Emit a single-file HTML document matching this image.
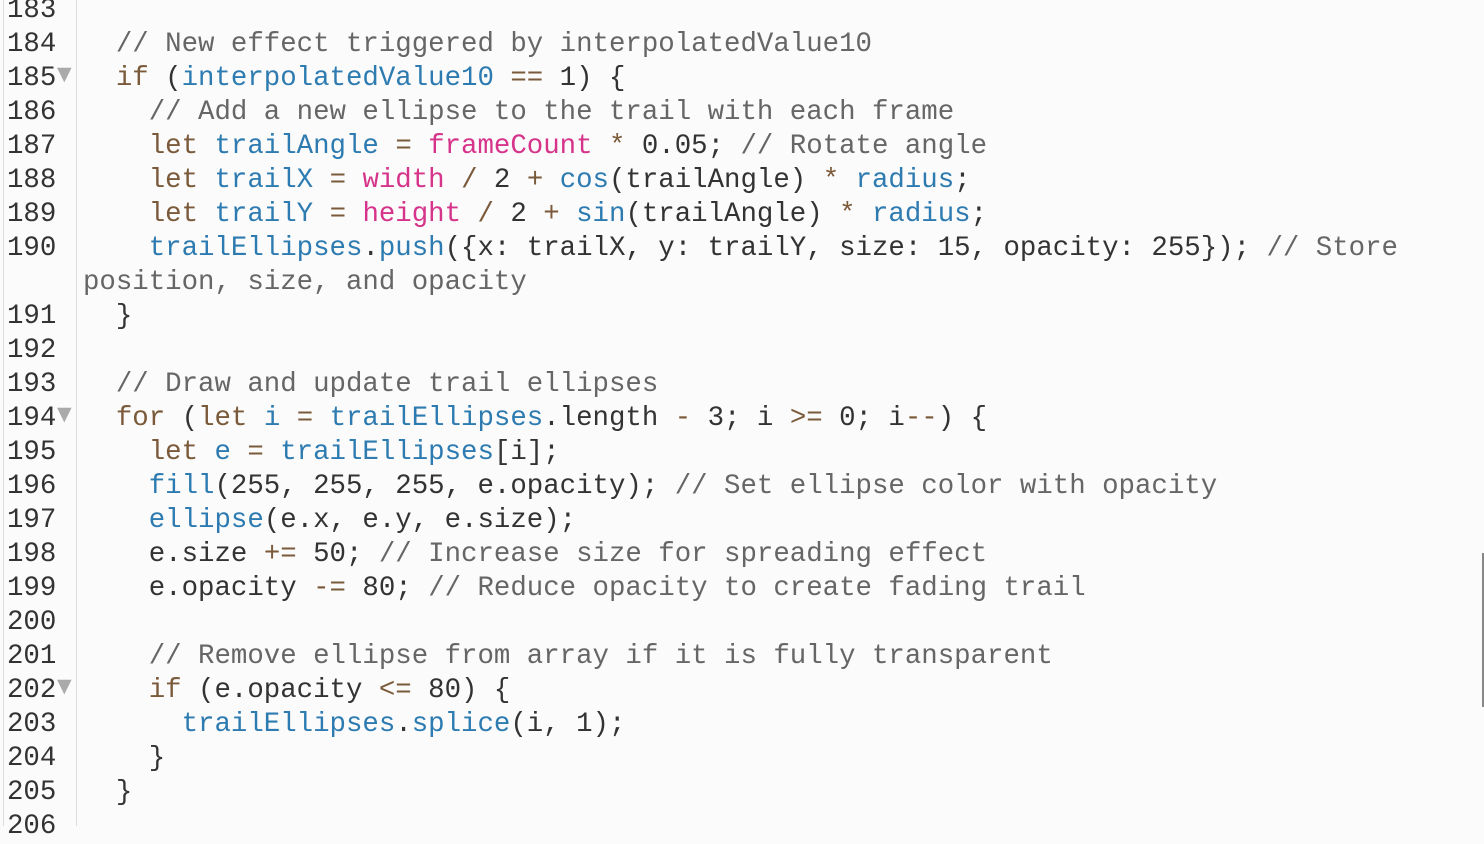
<!DOCTYPE html>
<html><head><meta charset="utf-8"><style>
html,body{margin:0;padding:0;width:1484px;height:826px;overflow:hidden;background:#fbfbfb;}
.g{position:absolute;left:3px;top:0;width:72px;height:826px;border-left:1px solid #ddd;border-right:1px solid #ddd;background:#fbfbfb}
.w{position:absolute;left:0;top:2px;width:1484px;height:826px}
.n,.l{position:absolute;font-family:"Liberation Mono",monospace;font-size:27.4px;line-height:34px;height:34px;white-space:pre;color:#333}
.n{left:7px}
.l{left:83px}
.f{position:absolute;left:57px;font-family:"DejaVu Sans",sans-serif;font-size:19px;color:#aaa}
.c{color:#666}.k{color:#7a5a3a}.b{color:#2d7bb0}.m{color:#d6338a}
.sb{position:absolute;left:1482px;top:553px;width:2px;height:154px;background:#888}
</style></head><body>
<div class="g"></div>
<div class="w">
<div class="n" style="top:-8px">183</div>
<div class="n" style="top:26px">184</div>
<div class="n" style="top:60px">185</div>
<div class="n" style="top:94px">186</div>
<div class="n" style="top:128px">187</div>
<div class="n" style="top:162px">188</div>
<div class="n" style="top:196px">189</div>
<div class="n" style="top:230px">190</div>
<div class="n" style="top:298px">191</div>
<div class="n" style="top:332px">192</div>
<div class="n" style="top:366px">193</div>
<div class="n" style="top:400px">194</div>
<div class="n" style="top:434px">195</div>
<div class="n" style="top:468px">196</div>
<div class="n" style="top:502px">197</div>
<div class="n" style="top:536px">198</div>
<div class="n" style="top:570px">199</div>
<div class="n" style="top:604px">200</div>
<div class="n" style="top:638px">201</div>
<div class="n" style="top:672px">202</div>
<div class="n" style="top:706px">203</div>
<div class="n" style="top:740px">204</div>
<div class="n" style="top:774px">205</div>
<div class="n" style="top:808px">206</div>
<div class="f" style="top:61px">▼</div>
<div class="f" style="top:401px">▼</div>
<div class="f" style="top:673px">▼</div>

<div class="l" style="top:26px">  <span class="c">// New effect triggered by interpolatedValue10</span></div>
<div class="l" style="top:60px">  <span class="k">if</span> (<span class="b">interpolatedValue10</span> <span class="k">==</span> 1) {</div>
<div class="l" style="top:94px">    <span class="c">// Add a new ellipse to the trail with each frame</span></div>
<div class="l" style="top:128px">    <span class="k">let</span> <span class="b">trailAngle</span> <span class="k">=</span> <span class="m">frameCount</span> <span class="k">*</span> 0.05; <span class="c">// Rotate angle</span></div>
<div class="l" style="top:162px">    <span class="k">let</span> <span class="b">trailX</span> <span class="k">=</span> <span class="m">width</span> <span class="k">/</span> 2 <span class="k">+</span> <span class="b">cos</span>(trailAngle) <span class="k">*</span> <span class="b">radius</span>;</div>
<div class="l" style="top:196px">    <span class="k">let</span> <span class="b">trailY</span> <span class="k">=</span> <span class="m">height</span> <span class="k">/</span> 2 <span class="k">+</span> <span class="b">sin</span>(trailAngle) <span class="k">*</span> <span class="b">radius</span>;</div>
<div class="l" style="top:230px">    <span class="b">trailEllipses</span>.<span class="b">push</span>({x: trailX, y: trailY, size: 15, opacity: 255}); <span class="c">// Store</span></div>
<div class="l" style="top:264px"><span class="c">position, size, and opacity</span></div>
<div class="l" style="top:298px">  }</div>
<div class="l" style="top:366px">  <span class="c">// Draw and update trail ellipses</span></div>
<div class="l" style="top:400px">  <span class="k">for</span> (<span class="k">let</span> <span class="b">i</span> <span class="k">=</span> <span class="b">trailEllipses</span>.length <span class="k">-</span> 3; i <span class="k">&gt;=</span> 0; i<span class="k">--</span>) {</div>
<div class="l" style="top:434px">    <span class="k">let</span> <span class="b">e</span> <span class="k">=</span> <span class="b">trailEllipses</span>[i];</div>
<div class="l" style="top:468px">    <span class="b">fill</span>(255, 255, 255, e.opacity); <span class="c">// Set ellipse color with opacity</span></div>
<div class="l" style="top:502px">    <span class="b">ellipse</span>(e.x, e.y, e.size);</div>
<div class="l" style="top:536px">    e.size <span class="k">+=</span> 50; <span class="c">// Increase size for spreading effect</span></div>
<div class="l" style="top:570px">    e.opacity <span class="k">-=</span> 80; <span class="c">// Reduce opacity to create fading trail</span></div>
<div class="l" style="top:638px">    <span class="c">// Remove ellipse from array if it is fully transparent</span></div>
<div class="l" style="top:672px">    <span class="k">if</span> (e.opacity <span class="k">&lt;=</span> 80) {</div>
<div class="l" style="top:706px">      <span class="b">trailEllipses</span>.<span class="b">splice</span>(i, 1);</div>
<div class="l" style="top:740px">    }</div>
<div class="l" style="top:774px">  }</div>
</div>
<div class="sb"></div>
</body></html>
